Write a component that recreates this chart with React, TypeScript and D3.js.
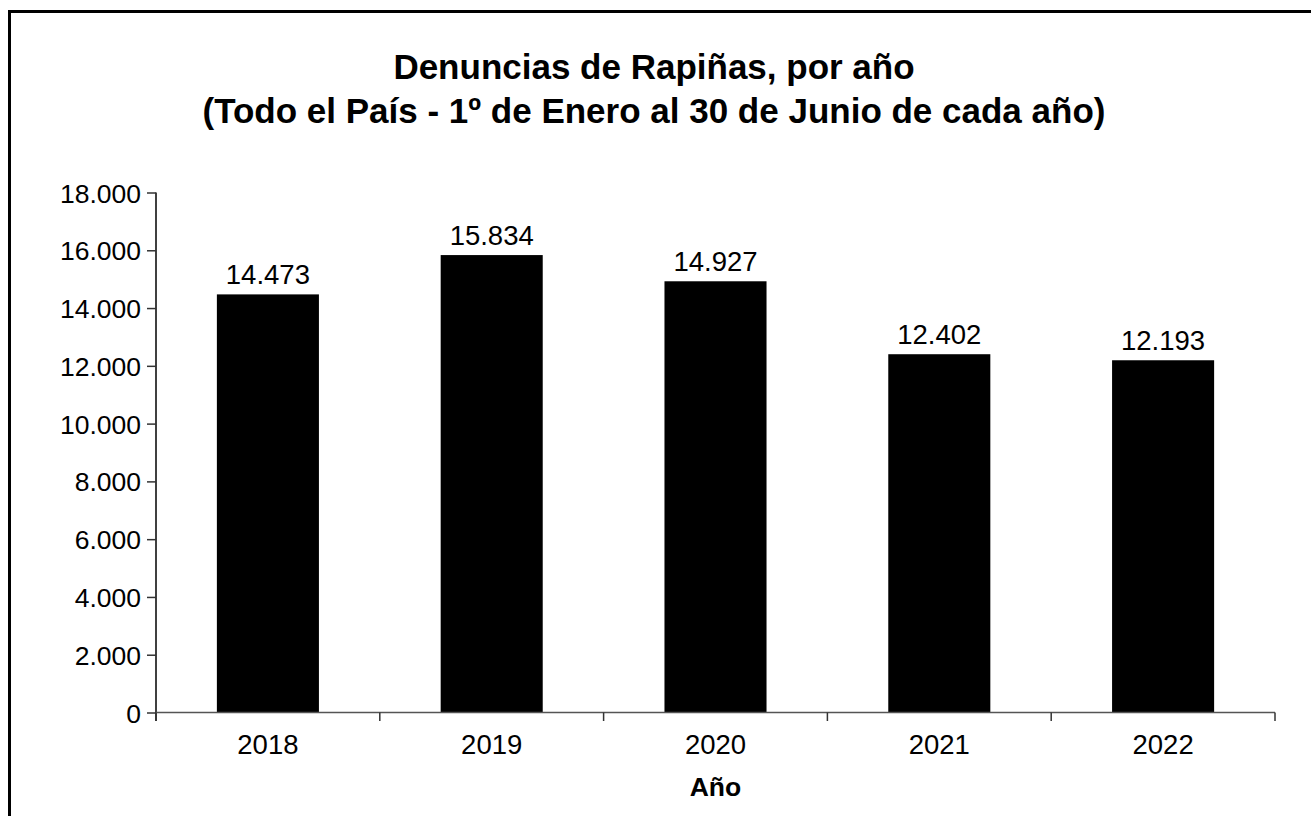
import React, { useRef, useEffect } from 'react';
import * as d3 from 'd3';

// datos
const years = ['2018', '2019', '2020', '2021', '2022'];
const rapinas = [14473, 15834, 14927, 12402, 12193];
const yTicks = [0, 2000, 4000, 6000, 8000, 10000, 12000, 14000, 16000, 18000];

const fmt = (v: number) => d3.format(',')(v).replace(/,/g, '.');

function BarChart() {
  const svgRef = useRef<SVGSVGElement>(null);

  useEffect(() => {
    const W = 1311;
    const H = 816;
    const left = 156;
    const right = 1275;
    const top = 192.5;
    const bottom = 712.5;
    const font = 'Arial, "Liberation Sans", sans-serif';

    const svg = d3.select(svgRef.current);
    svg.selectAll('*').remove();
    svg.attr('width', W).attr('height', H);

    // marco exterior
    svg
      .append('rect')
      .attr('x', 9.5)
      .attr('y', 11.5)
      .attr('width', 1400)
      .attr('height', 900)
      .attr('fill', 'white')
      .attr('stroke', 'black')
      .attr('stroke-width', 3);

    // titulo
    const title = svg
      .append('text')
      .attr('text-anchor', 'middle')
      .attr('font-family', font)
      .attr('font-weight', 'bold')
      .attr('font-size', 35)
      .attr('fill', 'black');
    title.append('tspan').attr('x', 654).attr('y', 79).text('Denuncias de Rapiñas, por año');
    title
      .append('tspan')
      .attr('x', 654)
      .attr('y', 123)
      .text('(Todo el País - 1º de Enero al 30 de Junio de cada año)');

    const x = d3
      .scaleBand()
      .domain(years)
      .range([left, right])
      .paddingInner(0.544)
      .paddingOuter(0.272);
    const xCat = d3.scaleBand().domain(years).range([left, right]).padding(0);
    const y = d3.scaleLinear().domain([0, 18000]).range([bottom, top]);

    // barras
    svg
      .selectAll('.bar')
      .data(rapinas)
      .join('rect')
      .attr('class', 'bar')
      .attr('x', (d, i) => x(years[i]) as number)
      .attr('width', x.bandwidth())
      .attr('y', (d) => y(d))
      .attr('height', (d) => bottom - y(d))
      .attr('fill', 'black');

    // etiquetas de valores
    svg
      .selectAll('.lbl')
      .data(rapinas)
      .join('text')
      .attr('class', 'lbl')
      .attr('x', (d, i) => (x(years[i]) as number) + x.bandwidth() / 2)
      .attr('y', (d) => y(d) - 10)
      .attr('text-anchor', 'middle')
      .attr('font-family', font)
      .attr('font-size', 27.5)
      .attr('fill', 'black')
      .text((d) => fmt(d));

    // eje y
    const yAxis = d3
      .axisLeft(y)
      .tickValues(yTicks)
      .tickSize(9)
      .tickPadding(6)
      .tickFormat((d: any) => fmt(d));
    const gy = svg.append('g').attr('transform', `translate(${left},0)`).call(yAxis);
    gy.select('.domain').attr('stroke', 'black').attr('stroke-width', 1.5).attr('d', `M0,${top}V${bottom + 8.5}`);
    gy.selectAll('.tick line').attr('stroke', '#333').attr('stroke-width', 1.5);
    gy.selectAll('.tick text')
      .attr('font-family', font)
      .attr('font-size', 26.5)
      .attr('fill', 'black')
      .attr('dy', '0.36em');

    // eje x
    const gx = svg.append('g');
    gx.append('line')
      .attr('x1', left)
      .attr('x2', right)
      .attr('y1', bottom)
      .attr('y2', bottom)
      .attr('stroke', '#555')
      .attr('stroke-width', 1.5);
    const bounds = years.map((c) => xCat(c) as number).concat([right]);
    gx.selectAll('.xt')
      .data(bounds)
      .join('line')
      .attr('class', 'xt')
      .attr('x1', (d) => d)
      .attr('x2', (d) => d)
      .attr('y1', bottom)
      .attr('y2', bottom + 8.5)
      .attr('stroke', '#333')
      .attr('stroke-width', 1.5);
    gx.selectAll('.xl')
      .data(years)
      .join('text')
      .attr('class', 'xl')
      .attr('x', (d) => (xCat(d) as number) + xCat.bandwidth() / 2)
      .attr('y', 754)
      .attr('text-anchor', 'middle')
      .attr('font-family', font)
      .attr('font-size', 27.5)
      .attr('fill', 'black')
      .text((d) => d);

    svg
      .append('text')
      .attr('x', (left + right) / 2)
      .attr('y', 796)
      .attr('text-anchor', 'middle')
      .attr('font-family', font)
      .attr('font-weight', 'bold')
      .attr('font-size', 26.5)
      .attr('fill', 'black')
      .text('Año');
  }, []);

  return <svg ref={svgRef} style={{ position: 'absolute', left: 0, top: 0, display: 'block' }}></svg>;
}

export default function App() {
  return (
    <div>
      <BarChart />
    </div>
  );
}
